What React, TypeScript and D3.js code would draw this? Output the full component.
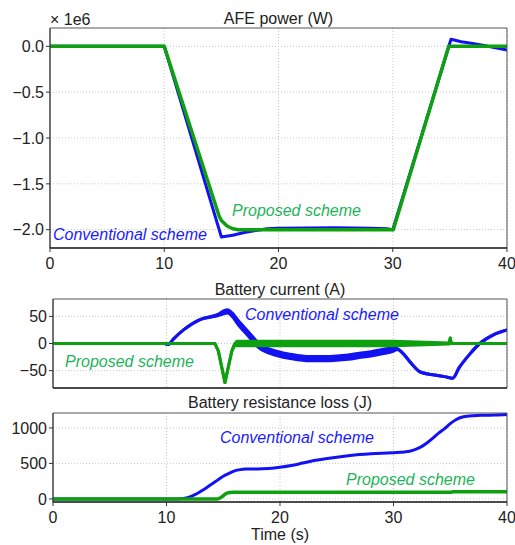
import React from "react";
import * as d3 from "d3";

// time axis ticks shared by all panels
const timeTicks = [0, 10, 20, 30, 40];

// AFE power, in units of 1e6 W
const powerTicks = [0, -0.5, -1.0, -1.5, -2.0];
const tPowerConv = [0, 10, 15, 16, 17, 18, 19, 20, 25, 28, 29.5, 30, 35.1, 36, 37, 38, 40];
const powerConv = [0, 0, -2.08, -2.06, -2.03, -2.01, -1.99, -1.985, -1.98, -1.985, -1.99, -2.0, 0.077, 0.05, 0.03, 0.01, -0.04];
const tPowerProp = [0, 10, 14.8, 15, 15.5, 16, 16.5, 30.05, 34.9, 40];
const powerProp = [0, 0, -1.85, -1.9, -1.96, -1.99, -2.0, -2.0, 0, 0];

// battery current (A)
const currentTicks = [-50, 0, 50];
const tCurConv = [0, 9.8, 10.16, 10.6, 11.5, 12.95, 14.4, 15.36, 16.5, 17.4, 18.2, 18.5, 19.7, 21, 22.6, 24, 25, 26, 27, 28, 29, 30, 30.3, 31, 31.5, 32.4, 33.6, 34.5, 35.2, 35.8, 36.7, 37.6, 38.8, 40];
const curConv = [0, 0, -2, 8, 25, 44, 51.5, 59, 34, 13, -5, -9, -18, -24, -28, -28, -27, -25, -22, -19, -15, -11, -10, -22, -35, -53, -58, -61, -64, -44, -20, 0, 16, 25];
const curConvNoise = [0, 0, 0, 0, 0, 0, 1, 3, 4, 4, 4, 4, 4, 4, 4, 4, 4, 4, 4, 4, 4, 3, 1, 0, 0, 0, 0, 0, 0, 0, 0, 0, 0, 0];
const tCurProp = [0, 14.27, 14.57, 15.15, 15.75, 16, 16.2, 30, 34.9, 35, 35.1, 40];
const curProp = [0, 0, -14, -72, -14, -2, 0, 0, 0, 10, 0, 0];
const curPropNoise = [0, 0, 0, 0, 0, 1.5, 4, 4, 1, 0, 0, 0];

// battery resistance loss (J)
const lossTicks = [0, 500, 1000];
const tLossConv = [0, 11, 11.5, 12, 12.5, 13, 13.5, 14, 14.5, 15, 15.5, 16, 16.5, 17, 18, 19, 20, 21, 22, 23, 24, 25, 26, 27, 28, 29, 30, 31, 31.5, 32, 32.5, 33, 33.5, 34, 34.5, 35, 35.5, 36, 36.5, 37, 38, 39, 40];
const lossConv = [0, 0, 5, 25, 60, 105, 155, 210, 265, 320, 360, 395, 413, 420, 422, 430, 446, 470, 505, 540, 565, 588, 608, 625, 637, 645, 651, 662, 675, 700, 740, 795, 860, 930, 990, 1060, 1115, 1150, 1165, 1172, 1178, 1182, 1190];
const tLossProp = [0, 14.5, 15, 15.3, 15.6, 16, 35, 35.3, 40];
const lossProp = [0, 0, 45, 80, 92, 95, 95, 100, 102];

const W = 515;
const H = 545;
const blue = "#1212f2";
const green = "#0fa00f";
const blueText = "#1a1aff";
const greenText = "#1eb35a";
const font = "'Liberation Sans', Arial, sans-serif";

type Panel = {
  x0: number; x1: number; y0: number; y1: number;
  yDomain: [number, number];
  yTicks: number[];
  yFmt: (v: number) => string;
  xLabels: boolean;
  title: string;
  titleY: number;
};

const fmtMinus = (s: string) => s.replace("-", "\u2212");

const panels: Panel[] = [
  { x0: 50, x1: 507, y0: 28, y1: 248, yDomain: [-2.2, 0.2], yTicks: powerTicks, yFmt: v => fmtMinus(v.toFixed(1)), xLabels: true, title: "AFE power (W)", titleY: 24 },
  { x0: 53, x1: 507, y0: 299, y1: 388, yDomain: [-82, 82], yTicks: currentTicks, yFmt: v => fmtMinus(String(v)), xLabels: false, title: "Battery current (A)", titleY: 295 },
  { x0: 53, x1: 507, y0: 413, y1: 502, yDomain: [-43, 1210], yTicks: lossTicks, yFmt: v => String(v), xLabels: true, title: "Battery resistance loss (J)", titleY: 408 },
];

function Frame({ p, children }: { p: Panel; children?: React.ReactNode }) {
  const x = d3.scaleLinear([0, 40], [p.x0, p.x1]);
  const y = d3.scaleLinear(p.yDomain, [p.y1, p.y0]);
  return (
    <g>
      {timeTicks.map(t => (
        <line key={"gx" + t} x1={x(t)} x2={x(t)} y1={p.y0} y2={p.y1} stroke="#c8c8c8" strokeDasharray="1,2" />
      ))}
      {p.yTicks.map(v => (
        <line key={"gy" + v} x1={p.x0} x2={p.x1} y1={y(v)} y2={y(v)} stroke="#c8c8c8" strokeDasharray="1,2" />
      ))}
      {children}
      <line x1={p.x0} x2={p.x1} y1={p.y0} y2={p.y0} stroke="#555" strokeWidth={1} />
      <line x1={p.x1} x2={p.x1} y1={p.y0} y2={p.y1} stroke="#555" strokeWidth={1} />
      <line x1={p.x0} x2={p.x0} y1={p.y0} y2={p.y1} stroke="#444" strokeWidth={1.5} />
      <line x1={p.x0} x2={p.x1} y1={p.y1} y2={p.y1} stroke="#111" strokeWidth={1.5} />
      {p.yTicks.map(v => (
        <g key={"ty" + v}>
          <line x1={p.x0 - 4} x2={p.x0} y1={y(v)} y2={y(v)} stroke="#333" />
          <text x={p.x0 - 6} y={y(v)} dy="0.36em" textAnchor="end" fontSize={16} fill="#222">{p.yFmt(v)}</text>
        </g>
      ))}
      {p.xLabels && timeTicks.map(t => (
        <g key={"tx" + t}>
          <line x1={x(t)} x2={x(t)} y1={p.y1} y2={p.y1 + 4} stroke="#333" />
          <text x={x(t)} y={p.y1 + 21} textAnchor="middle" fontSize={16} fill="#222">{t}</text>
        </g>
      ))}
      <text x={(p.x0 + p.x1) / 2} y={p.titleY} textAnchor="middle" fontSize={16} fill="#222">{p.title}</text>
    </g>
  );
}

function Series({ p, t, v, noise, color, width, curve }: {
  p: Panel; t: number[]; v: number[]; noise?: number[]; color: string; width: number; curve: d3.CurveFactory;
}) {
  const x = d3.scaleLinear([0, 40], [p.x0, p.x1]);
  const y = d3.scaleLinear(p.yDomain, [p.y1, p.y0]);
  const idx = d3.range(t.length);
  const line = d3.line<number>().x(i => x(t[i])).y(i => y(v[i])).curve(curve);
  const area = noise
    ? d3.area<number>().x(i => x(t[i])).y0(i => y(v[i] - noise[i])).y1(i => y(v[i] + noise[i])).curve(curve)
    : null;
  return (
    <g>
      {area && <path d={area(idx) ?? ""} fill={color} stroke={color} strokeWidth={width} strokeLinejoin="round" />}
      <path d={line(idx) ?? ""} fill="none" stroke={color} strokeWidth={width} strokeLinejoin="round" />
    </g>
  );
}

export default function App() {
  const [pw, pc, pl] = panels;
  return (
    <svg width={W} height={H} style={{ position: "absolute", left: 0, top: 0, fontFamily: font }}>
      <rect width={W} height={H} fill="#fff" />
      <defs>
        {panels.map((p, i) => (
          <clipPath key={i} id={"clip" + i}>
            <rect x={p.x0} y={p.y0} width={p.x1 - p.x0} height={p.y1 - p.y0} />
          </clipPath>
        ))}
      </defs>

      <Frame p={pw}>
        <g clipPath="url(#clip0)">
          <Series p={pw} t={tPowerConv} v={powerConv} color={blue} width={3} curve={d3.curveLinear} />
          <Series p={pw} t={tPowerProp} v={powerProp} color={green} width={3.5} curve={d3.curveLinear} />
        </g>
      </Frame>
      <text x={50} y={25} fontSize={16} fill="#222">{"\u00d7 1e6"}</text>
      <text x={53} y={240} fontSize={16} fontStyle="italic" fill={blueText}>Conventional scheme</text>
      <text x={232} y={216} fontSize={16} fontStyle="italic" fill={greenText}>Proposed scheme</text>

      <Frame p={pc}>
        <g clipPath="url(#clip1)">
          <Series p={pc} t={tCurConv} v={curConv} noise={curConvNoise} color={blue} width={3} curve={d3.curveMonotoneX} />
          <Series p={pc} t={tCurProp} v={curProp} noise={curPropNoise} color={green} width={3} curve={d3.curveLinear} />
        </g>
      </Frame>
      <text x={245} y={320} fontSize={16} fontStyle="italic" fill={blueText}>Conventional scheme</text>
      <text x={65} y={367} fontSize={16} fontStyle="italic" fill={greenText}>Proposed scheme</text>

      <Frame p={pl}>
        <g clipPath="url(#clip2)">
          <Series p={pl} t={tLossConv} v={lossConv} color={blue} width={3} curve={d3.curveMonotoneX} />
          <Series p={pl} t={tLossProp} v={lossProp} color={green} width={3.5} curve={d3.curveMonotoneX} />
        </g>
      </Frame>
      <text x={220} y={443} fontSize={16} fontStyle="italic" fill={blueText}>Conventional scheme</text>
      <text x={346} y={485} fontSize={16} fontStyle="italic" fill={greenText}>Proposed scheme</text>
      <text x={280} y={540} textAnchor="middle" fontSize={16} fill="#222">Time (s)</text>
    </svg>
  );
}
